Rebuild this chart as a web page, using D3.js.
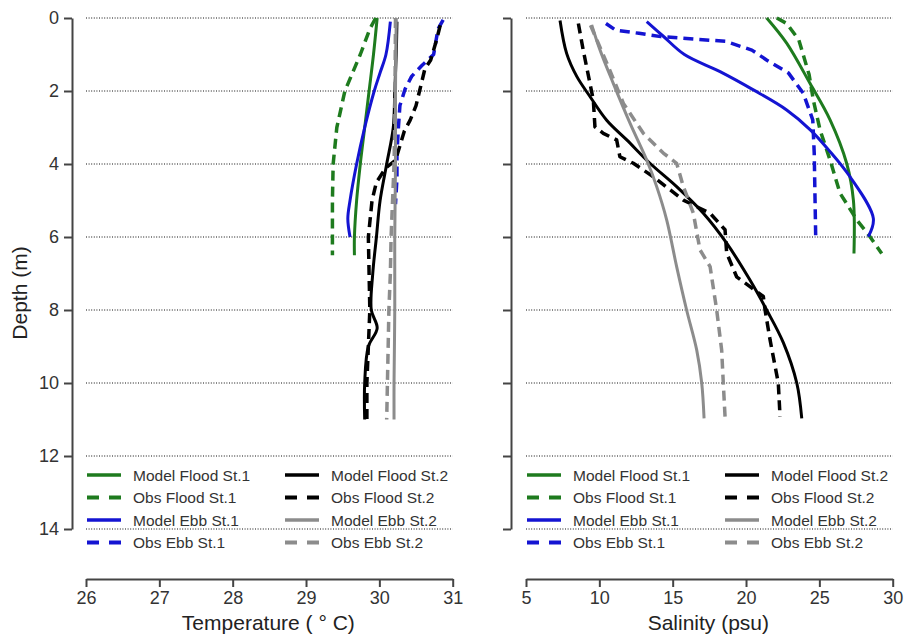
<!DOCTYPE html>
<html>
<head>
<meta charset="utf-8">
<script src="https://cdn.jsdelivr.net/npm/d3@7"></script>
<style>
  html, body { margin: 0; padding: 0; background: #fff; }
  svg { display: block; font-family: "Liberation Sans", Arial, sans-serif; }
</style>
</head>
<body>
<svg id="chart" width="904" height="637"></svg>
<script>
// ---------- DATA ----------
const depthTicks = [0, 2, 4, 6, 8, 10, 12, 14];
const tempTicks = [26, 27, 28, 29, 30, 31];
const salTicks = [5, 10, 15, 20, 25, 30];

const seriesNames = ["Model Flood St.1", "Obs Flood St.1", "Model Ebb St.1", "Obs Ebb St.1",
                     "Model Flood St.2", "Obs Flood St.2", "Model Ebb St.2", "Obs Ebb St.2"];
const seriesColors = ["#1e7b1e", "#1e7b1e", "#1414d2", "#1414d2", "#000000", "#000000", "#8c8c8c", "#8c8c8c"];
const seriesDashed = [false, true, false, true, false, true, false, true];

// Temperature profiles (depth m, temperature °C)
const tDepthModelFlood1 = [0, 1, 2, 3, 4, 5, 6, 6.5];
const tValModelFlood1   = [29.97, 29.92, 29.86, 29.80, 29.74, 29.69, 29.66, 29.66];
const tDepthObsFlood1 = [0, 0.3, 1, 2, 3, 4, 5, 6, 6.5];
const tValObsFlood1   = [29.95, 29.87, 29.74, 29.53, 29.42, 29.37, 29.36, 29.36, 29.36];
const tDepthModelEbb1 = [0.1, 1, 1.5, 2, 3, 4, 5, 5.5, 6];
const tValModelEbb1   = [30.15, 30.09, 30.01, 29.93, 29.80, 29.69, 29.60, 29.57, 29.60];
const tDepthObsEbb1 = [0.05, 0.3, 1, 1.3, 1.6, 1.95, 2.4, 3, 3.7, 4.4, 5.1];
const tValObsEbb1   = [30.87, 30.80, 30.74, 30.58, 30.44, 30.35, 30.28, 30.26, 30.24, 30.24, 30.22];
const tDepthModelFlood2 = [0.1, 1, 2, 3, 4, 5, 6, 7, 8, 8.5, 9, 10, 11];
const tValModelFlood2   = [30.24, 30.23, 30.21, 30.19, 30.10, 30.01, 29.96, 29.91, 29.89, 29.97, 29.85, 29.80, 29.80];
const tDepthObsFlood2 = [0.2, 0.6, 1.15, 1.4, 1.9, 2.4, 2.8, 3.1, 3.5, 3.9, 4.1, 4.5, 5, 6, 7, 8, 9, 10, 11];
const tValObsFlood2   = [30.83, 30.78, 30.70, 30.62, 30.56, 30.50, 30.42, 30.34, 30.28, 30.22, 30.09, 29.96, 29.90, 29.85, 29.86, 29.87, 29.85, 29.83, 29.83];
const tDepthModelEbb2 = [0, 2, 4, 6, 8, 10, 11];
const tValModelEbb2   = [30.23, 30.22, 30.22, 30.21, 30.21, 30.20, 30.20];
const tDepthObsEbb2 = [0, 3, 4, 5, 6, 7, 8, 9, 10, 11];
const tValObsEbb2   = [30.22, 30.21, 30.20, 30.18, 30.16, 30.15, 30.13, 30.12, 30.11, 30.10];

// Salinity profiles (depth m, salinity psu)
const sDepthModelFlood1 = [0, 0.69, 1.79, 2.79, 3.98, 4.99, 6.45];
const sValModelFlood1   = [21.41, 22.77, 24.36, 25.73, 26.86, 27.32, 27.36];
const sDepthObsFlood1 = [0, 0.15, 0.6, 1.55, 2.25, 3.07, 3.89, 4.8, 5.53, 5.99, 6.45];
const sValObsFlood1   = [22.1, 22.77, 23.6, 24.3, 24.59, 25.05, 25.73, 26.41, 27.55, 28.45, 29.25];
const sDepthModelEbb1 = [0.1, 0.5, 1.0, 1.47, 1.97, 2.52, 3.07, 3.6, 4.35, 5.49, 5.99];
const sValModelEbb1   = [13.23, 14.36, 15.8, 18.23, 20.5, 22.77, 24.4, 25.6, 27.09, 28.68, 28.34];
const sDepthObsEbb1 = [0.15, 0.33, 0.42, 0.51, 0.58, 0.64, 0.88, 1.15, 1.51, 2.06, 2.79, 3.7, 5.99];
const sValObsEbb1   = [10.45, 11.1, 12.7, 14.2, 16.6, 18.6, 20.4, 21.4, 22.9, 23.9, 24.55, 24.65, 24.75];
const sDepthModelFlood2 = [0.07, 0.97, 1.6, 2.15, 2.8, 3.34, 3.98, 4.62, 5.35, 6.17, 7.18, 8, 8.9, 10, 10.97];
const sValModelFlood2   = [7.32, 7.77, 8.46, 9.36, 10.5, 11.87, 13.45, 15.27, 17.09, 18.68, 20.27, 21.41, 22.55, 23.46, 23.8];
const sDepthObsFlood2 = [0.15, 0.88, 1.79, 2.25, 2.98, 3.16, 3.34, 3.8, 3.98, 4.35, 4.99, 5.35, 5.8, 6.44, 7.09, 7.36, 7.63, 8, 8.82, 10, 10.92];
const sValObsFlood2   = [8.57, 8.9, 9.36, 9.59, 9.7, 10.27, 11.18, 11.4, 12.32, 13.68, 15.73, 17.55, 18.57, 18.68, 19.36, 20.27, 21.18, 21.3, 21.64, 22.2, 22.32];
const sDepthModelEbb2 = [0.19, 0.88, 1.79, 2.88, 3.89, 4.62, 5.53, 6.81, 8, 9.1, 10, 10.97];
const sValModelEbb2   = [9.48, 10.05, 10.95, 12.09, 13.23, 13.91, 14.59, 15.27, 15.95, 16.64, 16.98, 17.14];
const sDepthObsEbb2 = [0.2, 1.33, 2.34, 3.16, 3.7, 3.98, 4.62, 5.35, 6.35, 6.81, 8, 9.1, 10, 10.92];
const sValObsEbb2   = [9.4, 10.61, 11.64, 13.0, 14.36, 15.27, 15.73, 16.41, 16.86, 17.55, 18.0, 18.34, 18.45, 18.57];

const tempDepths = [tDepthModelFlood1, tDepthObsFlood1, tDepthModelEbb1, tDepthObsEbb1,
                    tDepthModelFlood2, tDepthObsFlood2, tDepthModelEbb2, tDepthObsEbb2];
const tempVals = [tValModelFlood1, tValObsFlood1, tValModelEbb1, tValObsEbb1,
                  tValModelFlood2, tValObsFlood2, tValModelEbb2, tValObsEbb2];
const salDepths = [sDepthModelFlood1, sDepthObsFlood1, sDepthModelEbb1, sDepthObsEbb1,
                   sDepthModelFlood2, sDepthObsFlood2, sDepthModelEbb2, sDepthObsEbb2];
const salVals = [sValModelFlood1, sValObsFlood1, sValModelEbb1, sValObsEbb1,
                 sValModelFlood2, sValObsFlood2, sValModelEbb2, sValObsEbb2];

// ---------- DRAW ----------
const svg = d3.select("#chart");
const textColor = "#333";
const axisColor = "#444";

const y = d3.scaleLinear().domain([0, 14]).range([18, 529]);

const panels = [
  { domain: [26, 31], range: [86, 452.7], yAxisX: 72, labels: true, ticks: tempTicks,
    title: "Temperature ( \u00B0 C)", depths: tempDepths, vals: tempVals, legendX: [87, 285] },
  { domain: [5, 30], range: [526, 892.7], yAxisX: 511, labels: false, ticks: salTicks,
    title: "Salinity (psu)", depths: salDepths, vals: salVals, legendX: [527, 725] }
];

panels.forEach(p => {
  const x = d3.scaleLinear().domain(p.domain).range(p.range);
  const g = svg.append("g");

  // dotted grid lines
  g.selectAll("line.grid").data(depthTicks).join("line")
    .attr("x1", p.range[0]).attr("x2", p.range[1])
    .attr("y1", d => y(d)).attr("y2", d => y(d))
    .attr("stroke", "#111").attr("stroke-width", 1)
    .attr("stroke-dasharray", "1,1.6");

  // y axis
  const yAxis = d3.axisLeft(y).tickValues(depthTicks).tickSize(8).tickSizeOuter(0)
    .tickFormat(p.labels ? d3.format("d") : () => "");
  const ya = g.append("g").attr("transform", `translate(${p.yAxisX},0)`).call(yAxis);
  ya.select(".domain").attr("stroke", axisColor).attr("stroke-width", 2);
  ya.selectAll(".tick line").attr("stroke", axisColor).attr("stroke-width", 2);
  ya.selectAll(".tick text").attr("fill", textColor).attr("font-size", 18)
    .attr("font-family", "Liberation Sans, Arial, sans-serif").attr("x", -13);

  // x axis
  const xAxis = d3.axisBottom(x).tickValues(p.ticks).tickSize(8).tickSizeOuter(0).tickFormat(d3.format("d"));
  const xa = g.append("g").attr("transform", "translate(0,579)").call(xAxis);
  xa.select(".domain").attr("stroke", axisColor).attr("stroke-width", 2);
  xa.selectAll(".tick line").attr("stroke", axisColor).attr("stroke-width", 2);
  xa.selectAll(".tick text").attr("fill", textColor).attr("font-size", 18)
    .attr("font-family", "Liberation Sans, Arial, sans-serif").attr("y", 12);

  // x title
  g.append("text").attr("x", (p.range[0] + p.range[1]) / 2 - 1).attr("y", 630)
    .attr("text-anchor", "middle").attr("font-size", 21).attr("fill", "#222")
    .text(p.title);

  // profile lines
  const line = d3.line().x(d => x(d[1])).y(d => y(d[0]));
  seriesNames.forEach((name, i) => {
    const pts = p.depths[i].map((dep, k) => [dep, p.vals[i][k]]);
    g.append("path").datum(pts)
      .attr("d", line.curve(seriesDashed[i] ? d3.curveLinear : d3.curveCatmullRom.alpha(0.5)))
      .attr("fill", "none")
      .attr("stroke", seriesColors[i])
      .attr("stroke-width", seriesDashed[i] ? 3.5 : 3)
      .attr("stroke-dasharray", seriesDashed[i] ? "10,6" : null)
      .attr("stroke-linejoin", "round");
  });

  // legend
  const rowY = [475, 497.5, 520, 542.5];
  seriesNames.forEach((name, i) => {
    const col = i < 4 ? 0 : 1;
    const row = i % 4;
    const lx = p.legendX[col];
    const ly = rowY[row];
    g.append("line").attr("x1", lx).attr("x2", lx + 34).attr("y1", ly).attr("y2", ly)
      .attr("stroke", seriesColors[i]).attr("stroke-width", seriesDashed[i] ? 4 : 3.5)
      .attr("stroke-dasharray", seriesDashed[i] ? "12,10" : null);
    g.append("text").attr("x", lx + 46).attr("y", ly + 5.5)
      .attr("font-size", 15.5).attr("fill", textColor).text(name);
  });
});

// y title
svg.append("text")
  .attr("transform", "translate(27,293) rotate(-90)")
  .attr("text-anchor", "middle").attr("font-size", 21).attr("fill", "#222")
  .text("Depth (m)");
</script>
</body>
</html>
